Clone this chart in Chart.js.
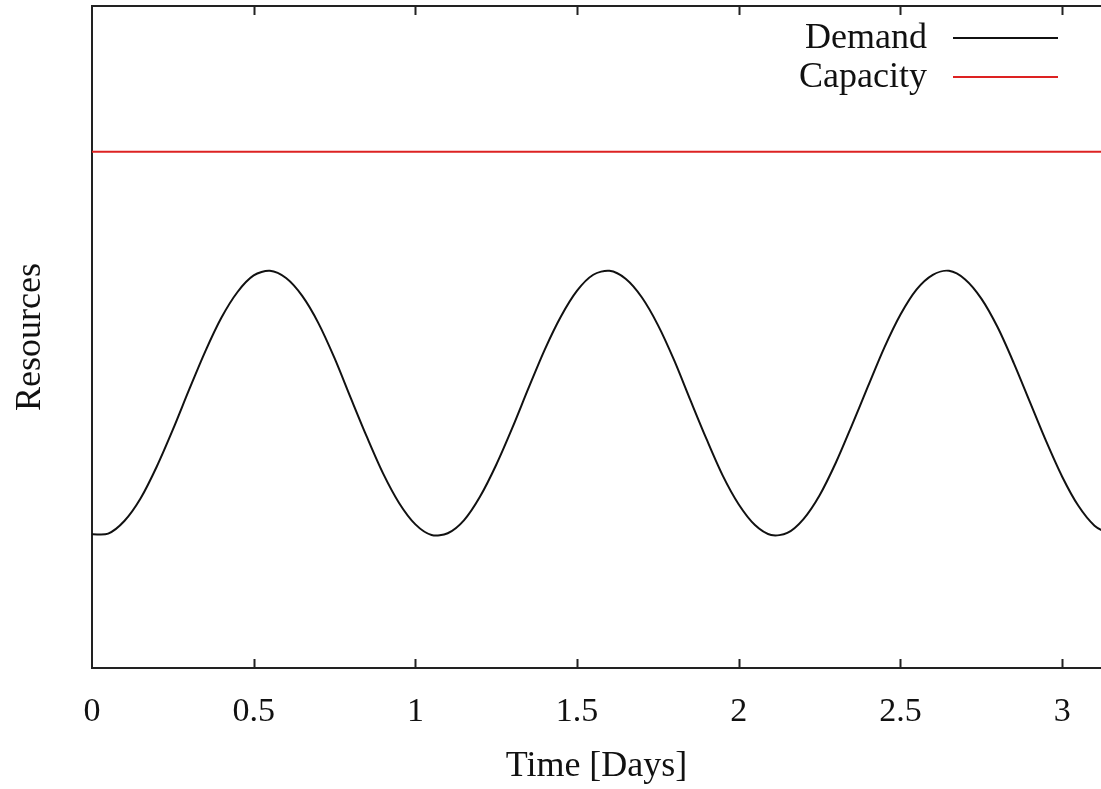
<!DOCTYPE html>
<html>
<head>
<meta charset="utf-8">
<script src="https://cdn.jsdelivr.net/npm/chart.js@4/dist/chart.umd.min.js"></script>
<style>
  html, body { margin: 0; padding: 0; background: #fff; overflow: hidden; }
  #wrap { width: 1101px; height: 789px; }
</style>
</head>
<body>
<div id="wrap"><canvas id="demand-chart"></canvas></div>
<script>
// Time axis (days) and the demand curve
const days = [0, 0.05, 0.1, 0.15, 0.2, 0.25, 0.3, 0.35, 0.4, 0.45, 0.5, 0.55, 0.6, 0.65, 0.7, 0.75, 0.8, 0.85, 0.9, 0.95,
  1, 1.05, 1.1, 1.15, 1.2, 1.25, 1.3, 1.35, 1.4, 1.45, 1.5, 1.55, 1.6, 1.65, 1.7, 1.75, 1.8, 1.85, 1.9, 1.95,
  2, 2.05, 2.1, 2.15, 2.2, 2.25, 2.3, 2.35, 2.4, 2.45, 2.5, 2.55, 2.6, 2.65, 2.7, 2.75, 2.8, 2.85, 2.9, 2.95,
  3, 3.05, 3.1, 3.15];
const demand = [20.2, 20.3, 22.2, 25.6, 30.4, 36.0, 42.0, 47.8, 52.9, 56.8, 59.3, 60.0, 58.9, 56.2, 52.1, 46.8, 40.8, 34.9, 29.4, 24.9,
  21.7, 20.1, 20.35, 22.3, 25.9, 30.7, 36.3, 42.3, 48.1, 53.1, 57.0, 59.4, 60.0, 58.8, 56.0, 51.8, 46.5, 40.5, 34.6, 29.1,
  24.7, 21.6, 20.1, 20.4, 22.5, 26.1, 31.0, 36.7, 42.6, 48.4, 53.4, 57.2, 59.4, 60.0, 58.7, 55.8, 51.5, 46.1, 40.2, 34.3,
  28.9, 24.5, 21.5, 20.1];
const capacityDays = [0, 3.15];
const capacity = [78, 78];
const xTicksStep = 0.5;

const serif = "'Liberation Serif', 'Times New Roman', serif";
const ink = "#111";

// inward ticks on bottom and top, top border, and legend drawn inside the plot
const framePlugin = {
  id: "frame",
  afterDraw(chart) {
    const ctx = chart.ctx;
    const area = chart.chartArea;
    const xs = chart.scales.x;
    ctx.save();
    ctx.strokeStyle = "#222";
    ctx.lineWidth = 2;
    ctx.beginPath();
    ctx.moveTo(area.left, area.top);
    ctx.lineTo(area.right, area.top);
    xs.ticks.forEach(function(t) {
      const px = Math.round(xs.getPixelForValue(t.value)) + 0.5;
      if (t.value === 0) return;
      ctx.moveTo(px, area.bottom);
      ctx.lineTo(px, area.bottom - 9);
      ctx.moveTo(px, area.top);
      ctx.lineTo(px, area.top + 9);
    });
    ctx.stroke();

    // legend: text right-aligned, line sample after it
    ctx.font = "36px " + serif;
    ctx.textAlign = "right";
    ctx.textBaseline = "middle";
    chart.data.datasets.forEach(function(ds, i) {
      const y = 38 + i * 39;
      ctx.fillStyle = ink;
      ctx.fillText(ds.label, 927, y + 1);
      ctx.strokeStyle = ds.borderColor;
      ctx.lineWidth = 2;
      ctx.beginPath();
      ctx.moveTo(953, y);
      ctx.lineTo(1058, y);
      ctx.stroke();
    });
    ctx.restore();
  }
};

const dataDemand = {
  datasets: [
    {
      label: "Demand",
      data: days.map(function(d, i) { return { x: d, y: demand[i] }; }),
      borderColor: "#111111",
      borderWidth: 2,
      pointRadius: 0,
      tension: 0.3,
      fill: false
    },
    {
      label: "Capacity",
      data: capacityDays.map(function(d, i) { return { x: d, y: capacity[i] }; }),
      borderColor: "#dd2222",
      borderWidth: 2,
      pointRadius: 0,
      fill: false
    }
  ]
};

const optionsDemand = {
  responsive: true,
  maintainAspectRatio: false,
  animation: false,
  layout: { padding: { top: 6, right: 0, left: 0, bottom: 0 } },
  scales: {
    x: {
      type: "linear",
      min: 0,
      max: 3.12,
      grid: { display: false, drawTicks: false },
      border: { display: true, color: "#222", width: 2 },
      ticks: {
        stepSize: xTicksStep,
        includeBounds: false,
        color: ink,
        padding: 24,
        maxRotation: 0,
        font: { family: serif, size: 34 },
        callback: function(value) {
          return String(value);
        }
      },
      title: {
        display: true,
        text: "Time [Days]",
        color: ink,
        font: { family: serif, size: 36 },
        padding: { top: 0, bottom: 1 }
      },
      afterFit: function(scale) {
        scale.height = 121;
        scale.paddingLeft = 0;
        scale.paddingRight = 0;
      }
    },
    y: {
      min: 0,
      max: 100,
      grid: { display: false, drawTicks: false },
      border: { display: true, color: "#222", width: 2 },
      ticks: { display: false },
      title: {
        display: true,
        text: "Resources",
        color: ink,
        font: { family: serif, size: 36 },
        padding: { top: 9, bottom: 0 }
      },
      afterFit: function(scale) { scale.width = 92; }
    }
  },
  plugins: {
    legend: { display: false },
    tooltip: { enabled: false }
  }
};

const ctx = document.getElementById("demand-chart").getContext("2d");
new Chart(ctx, {
  type: "line",
  data: dataDemand,
  options: optionsDemand,
  plugins: [framePlugin]
});
</script>
</body>
</html>
